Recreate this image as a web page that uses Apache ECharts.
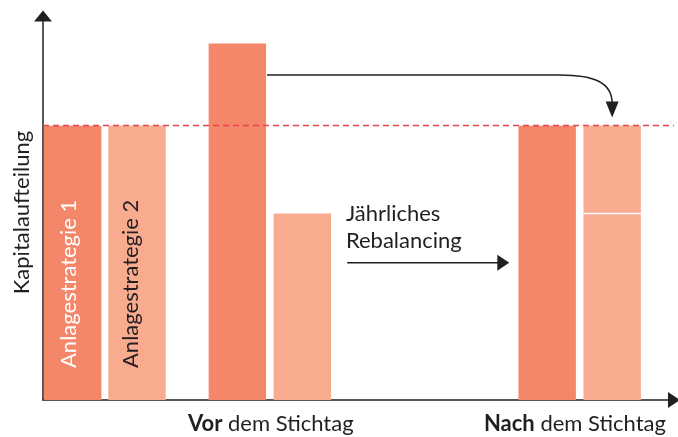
<!DOCTYPE html>
<html><head><meta charset="utf-8">
<script src="https://cdn.jsdelivr.net/npm/echarts@6/dist/echarts.min.js"></script>
<style>html,body{margin:0;padding:0;background:#fff}#c{width:678px;height:437px}</style>
</head><body><div id="c"></div>
<script>
const FONT = 'Lato';
// categories (x positions in axis units)
const categoryBold = ['Vor', 'Nach'];
const categoryRest = ['dem Stichtag', 'dem Stichtag'];
const categoryX = [3.61, 8.43];
// strategies
const strategyNames = ['Anlagestrategie 1', 'Anlagestrategie 2'];
const s1X = [0.47, 3.08, 7.99];
const s1Low = [0, 0, 0];
const s1High = [100, 130, 100];
const s2X = [1.49, 4.11, 9.02, 9.02];
const s2Low = [0, 0, 0, 68];
const s2High = [100, 68, 68, 100];
const targetLevel = [100];
const barWidth = 0.91;
// annotations
const rebalanceText = ['Jährliches', 'Rebalancing'];
const rebalanceTextX = [4.80, 4.80];
const rebalanceTextY = [67.7, 57.9];
const straightArrowX = [4.82, 7.39];
const straightArrowY = [50, 50];
const curveArrowX = [3.55, 8.19, 9.02];
const curveArrowY = [118.5, 118.5, 103];

const colors = ['#F4866A', '#F8AB8F'];
const ink = '#231F20';
const FS = 22;

function barRender(color, textColor, label, dx) {
  return function (params, api) {
    const x = api.value(0), lo = api.value(1), hi = api.value(2);
    const p0 = api.coord([x - barWidth / 2, hi]);
    const p1 = api.coord([x + barWidth / 2, lo]);
    const children = [{
      type: 'rect',
      shape: { x: p0[0], y: p0[1], width: p1[0] - p0[0], height: p1[1] - p0[1] },
      style: { fill: color }
    }];
    if (lo > 0) {
      children.push({ type: 'line', shape: { x1: p0[0], y1: p1[1], x2: p1[0], y2: p1[1] },
        style: { stroke: '#fff', lineWidth: 1.5 } });
    }
    if (params.dataIndex === 0) {
      children.push({
        type: 'text', x: (p0[0] + p1[0]) / 2 + dx, y: p1[1] - 32, rotation: Math.PI / 2,
        style: { text: label, fill: textColor, font: FS + 'px ' + FONT, align: 'left', verticalAlign: 'middle' }
      });
    }
    return { type: 'group', children };
  };
}

const s1Data = s1X.map((x, i) => [x, s1Low[i], s1High[i]]);
const s2Data = s2X.map((x, i) => [x, s2Low[i], s2High[i]]);

const chart = echarts.init(document.getElementById('c'));
chart.setOption({
  animation: false,
  grid: { left: 43, right: 4, top: 16, bottom: 37, containLabel: false, outerBoundsMode: 'none' },
  xAxis: {
    type: 'value', min: 0, max: 10,
    axisLine: { show: true, lineStyle: { color: ink, width: 1.5 }, symbol: ['none', 'triangle'], symbolSize: [16, 12] },
    axisTick: { show: false }, axisLabel: { show: false }, splitLine: { show: false }
  },
  yAxis: {
    type: 'value', min: 0, max: 140,
    name: 'Kapitalaufteilung', nameLocation: 'middle', nameRotate: 90, nameGap: 10,
    nameTextStyle: { fontFamily: FONT, fontSize: FS, color: ink, padding: [0, 9, 0, 0] },
    axisLine: { show: true, lineStyle: { color: ink, width: 1.5 }, symbol: ['none', 'triangle'], symbolSize: [18, 11] },
    axisTick: { show: false }, axisLabel: { show: false }, splitLine: { show: false }
  },
  series: [
    { type: 'custom', name: strategyNames[0], data: s1Data, encode: { x: 0, y: [1, 2] },
      renderItem: barRender(colors[0], '#ffffff', strategyNames[0], -3.5) },
    { type: 'custom', name: strategyNames[1], data: s2Data, encode: { x: 0, y: [1, 2] },
      renderItem: barRender(colors[1], ink, strategyNames[1], -6) },
    { type: 'line', data: [], z: 5,
      markLine: { silent: true, symbol: 'none', label: { show: false },
        lineStyle: { type: [6, 4], color: '#E8454E', width: 1.3 },
        data: targetLevel.map(v => ({ yAxis: v })) } },
    { type: 'custom', name: 'categories', data: categoryX.map((x, i) => [x, i]), z: 6,
      renderItem: function (params, api) {
        const i = params.dataIndex;
        const p = api.coord([api.value(0), 0]);
        return { type: 'text', x: p[0], y: p[1] + 24,
          style: { text: '{b|' + categoryBold[i] + '} ' + categoryRest[i],
            rich: { b: { fontWeight: 'bold', fontSize: FS, fontFamily: FONT, fill: ink } },
            font: FS + 'px ' + FONT, fill: ink, align: 'center', verticalAlign: 'middle' } };
      } },
    { type: 'custom', name: 'rebalanceText', data: rebalanceText.map((t, i) => [rebalanceTextX[i], rebalanceTextY[i]]), z: 6,
      renderItem: function (params, api) {
        const p = api.coord([api.value(0), api.value(1)]);
        return { type: 'text', x: p[0], y: p[1],
          style: { text: rebalanceText[params.dataIndex], font: FS + 'px ' + FONT, fill: ink, align: 'left', verticalAlign: 'middle' } };
      } },
    { type: 'custom', name: 'straightArrow', data: [[straightArrowX[0], straightArrowY[0], straightArrowX[1], straightArrowY[1]]], z: 6,
      renderItem: function (params, api) {
        const a = api.coord([api.value(0), api.value(1)]);
        const b = api.coord([api.value(2), api.value(3)]);
        return { type: 'group', children: [
          { type: 'line', shape: { x1: a[0], y1: a[1], x2: b[0] - 10, y2: b[1] }, style: { stroke: ink, lineWidth: 1.5 } },
          { type: 'polygon', shape: { points: [[b[0] - 12, b[1] - 8], [b[0], b[1]], [b[0] - 12, b[1] + 8]] }, style: { fill: ink } }
        ] };
      } },
    { type: 'custom', name: 'curveArrow', data: [[curveArrowX[0], curveArrowY[0], curveArrowX[1], curveArrowY[1], curveArrowX[2], curveArrowY[2]]], z: 6,
      renderItem: function (params, api) {
        const a = api.coord([api.value(0), api.value(1)]);
        const t = api.coord([api.value(2), api.value(3)]);
        const e = api.coord([api.value(4), api.value(5)]);
        const baseY = e[1] - 16;
        const path = 'M' + a[0] + ' ' + a[1] + ' L' + t[0] + ' ' + t[1] +
          ' C' + (t[0] + 35) + ' ' + t[1] + ' ' + e[0] + ' ' + (t[1] + 8) + ' ' + e[0] + ' ' + (baseY + 2);
        return { type: 'group', children: [
          { type: 'path', shape: { pathData: path }, style: { stroke: ink, lineWidth: 1.5, fill: null } },
          { type: 'polygon', shape: { points: [[e[0] - 6.5, baseY], [e[0] + 6.5, baseY], [e[0], e[1]]] }, style: { fill: ink } }
        ] };
      } }
  ]
});
</script></body></html>
